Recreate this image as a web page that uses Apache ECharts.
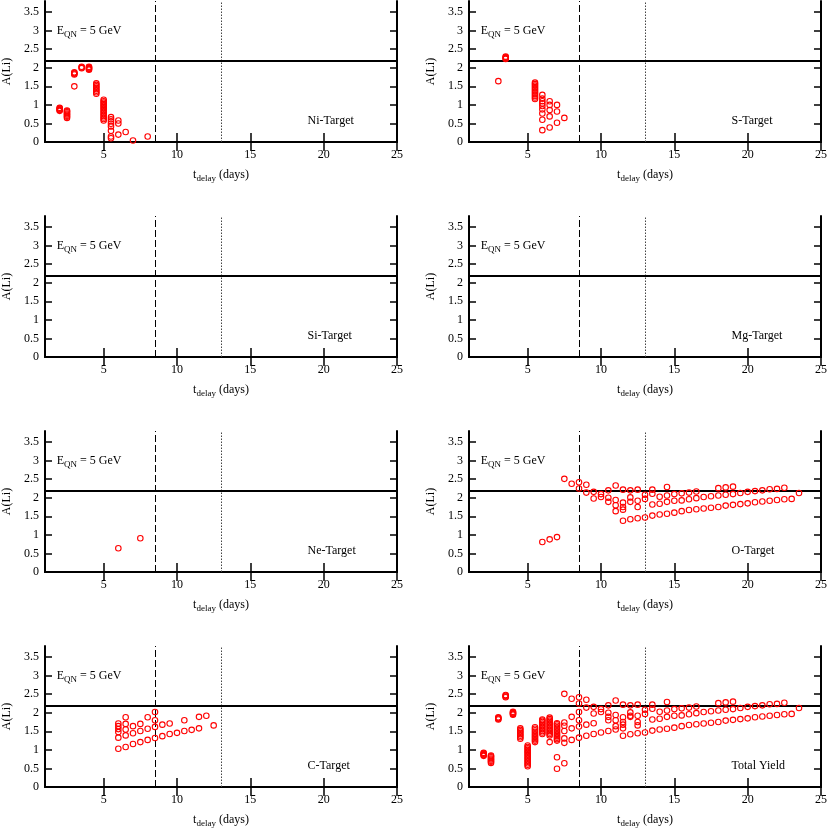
<!DOCTYPE html>
<html>
<head>
<meta charset="utf-8">
<script src="https://cdn.jsdelivr.net/npm/echarts@6/dist/echarts.min.js"></script>
<style>
  html, body { margin: 0; padding: 0; background: #fff; }
  #chart { width: 830px; height: 832px; }
</style>
</head>
<body>
<div id="chart"></div>
<script>
// panel titles
const targets = ['Ni-Target', 'S-Target', 'Si-Target', 'Mg-Target', 'Ne-Target', 'O-Target', 'C-Target', 'Total Yield']

// ticks
const xTicks = [5, 10, 15, 20, 25]
const yTicks = [0, 0.5, 1, 1.5, 2, 2.5, 3, 3.5]

// reference lines
const tDashed = 8.5
const tDotted = 13
const aLiPlateau = 2.2

// [t_delay (days), A(Li)]
const ni = [
  [2, 0.84], [2, 0.86], [2, 0.88], [2, 0.90], [2, 0.92],
  [2.5, 0.65], [2.5, 0.68], [2.5, 0.71], [2.5, 0.74], [2.5, 0.77], [2.5, 0.80], [2.5, 0.83], [2.5, 0.85],
  [3, 1.50], [3, 1.82], [3, 1.84], [3, 1.86], [3, 1.88],
  [3.5, 1.99], [3.5, 2.01], [3.5, 2.03],
  [4, 1.95], [4, 1.97], [4, 1.99], [4, 2.01], [4, 2.03],
  [4.5, 1.30], [4.5, 1.34], [4.5, 1.38], [4.5, 1.42], [4.5, 1.46], [4.5, 1.50], [4.5, 1.54], [4.5, 1.58],
  [5, 0.58], [5, 0.62], [5, 0.66], [5, 0.70], [5, 0.74], [5, 0.78], [5, 0.82], [5, 0.86],
  [5, 0.90], [5, 0.94], [5, 0.98], [5, 1.02], [5, 1.06], [5, 1.10], [5, 1.14],
  [5.5, 0.10], [5.5, 0.15], [5.5, 0.30], [5.5, 0.42], [5.5, 0.49], [5.5, 0.56], [5.5, 0.61], [5.5, 0.67],
  [6, 0.20], [6, 0.50], [6, 0.58],
  [6.5, 0.27], [7, 0.04], [8, 0.15]
]

const sulfur = [
  [3, 1.64],
  [3.5, 2.24], [3.5, 2.26], [3.5, 2.28], [3.5, 2.30],
  [5.5, 1.16], [5.5, 1.20], [5.5, 1.24], [5.5, 1.28], [5.5, 1.32], [5.5, 1.36],
  [5.5, 1.40], [5.5, 1.44], [5.5, 1.48], [5.5, 1.52], [5.5, 1.56], [5.5, 1.60],
  [6, 0.32], [6, 0.60], [6, 0.77], [6, 0.88], [6, 0.97], [6, 1.04], [6, 1.10], [6, 1.17], [6, 1.27],
  [6.5, 0.39], [6.5, 0.69], [6.5, 0.86], [6.5, 1.00], [6.5, 1.10],
  [7, 0.52], [7, 0.82], [7, 1.00],
  [7.5, 0.65]
]

const si = []
const mg = []

const ne = [[6, 0.64], [7.5, 0.91]]

const oxygen = [
  [6, 0.81], [6.5, 0.88], [7, 0.94], [7.5, 2.51], [8, 2.38],
  [8.5, 2.42], [8.5, 2.25], [9, 2.35], [9, 2.14], [9.5, 2.16], [9.5, 1.98],
  [10, 2.10], [10, 2.02], [10.5, 2.20], [10.5, 2.00], [10.5, 1.89],
  [11, 2.33], [11, 1.94], [11, 1.80], [11, 1.64],
  [11.5, 2.22], [11.5, 1.87], [11.5, 1.75], [11.5, 1.68], [11.5, 1.38],
  [12, 2.20], [12, 2.01], [12, 1.89], [12, 1.42],
  [12.5, 2.22], [12.5, 1.92], [12.5, 1.75], [12.5, 1.45],
  [13, 2.08], [13, 1.97], [13, 1.47],
  [13.5, 2.22], [13.5, 2.11], [13.5, 1.82], [13.5, 1.52],
  [14, 2.03], [14, 1.84], [14, 1.55],
  [14.5, 2.29], [14.5, 2.06], [14.5, 1.89], [14.5, 1.57],
  [15, 2.10], [15, 1.92], [15, 1.60],
  [15.5, 2.12], [15.5, 1.93], [15.5, 1.64],
  [16, 2.14], [16, 1.96], [16, 1.67],
  [16.5, 2.17], [16.5, 1.99], [16.5, 1.69],
  [17, 2.02], [17, 1.71], [17.5, 2.04], [17.5, 1.73],
  [18, 2.26], [18, 2.06], [18, 1.75],
  [18.5, 2.28], [18.5, 2.08], [18.5, 1.79],
  [19, 2.30], [19, 2.10], [19, 1.81],
  [19.5, 2.13], [19.5, 1.83], [20, 2.16], [20, 1.85],
  [20.5, 2.18], [20.5, 1.88], [21, 2.20], [21, 1.90],
  [21.5, 2.23], [21.5, 1.92], [22, 2.24], [22, 1.94],
  [22.5, 2.27], [22.5, 1.96], [23, 1.97], [23.5, 2.13]
]

const carbon = [
  [6, 1.03], [6, 1.33], [6, 1.48], [6, 1.56], [6, 1.64], [6, 1.71],
  [6.5, 1.08], [6.5, 1.39], [6.5, 1.55], [6.5, 1.70], [6.5, 1.88],
  [7, 1.16], [7, 1.45], [7, 1.64],
  [7.5, 1.21], [7.5, 1.51], [7.5, 1.70],
  [8, 1.27], [8, 1.57], [8, 1.88],
  [8.5, 1.32], [8.5, 1.62], [8.5, 1.80], [8.5, 2.02],
  [9, 1.37], [9, 1.68], [9.5, 1.43], [9.5, 1.71],
  [10, 1.46], [10.5, 1.51], [10.5, 1.80], [11, 1.54],
  [11.5, 1.58], [11.5, 1.89], [12, 1.92], [12.5, 1.66]
]

const total = [
  [2, 0.84], [2, 0.86], [2, 0.88], [2, 0.90], [2, 0.92],
  [2.5, 0.65], [2.5, 0.68], [2.5, 0.71], [2.5, 0.74], [2.5, 0.77], [2.5, 0.80], [2.5, 0.83], [2.5, 0.85],
  [3, 1.82], [3, 1.84], [3, 1.86], [3, 1.88],
  [3.5, 2.42], [3.5, 2.44], [3.5, 2.46], [3.5, 2.48],
  [4, 1.95], [4, 1.97], [4, 1.99], [4, 2.01], [4, 2.03],
  [4.5, 1.30], [4.5, 1.34], [4.5, 1.38], [4.5, 1.42], [4.5, 1.46], [4.5, 1.50], [4.5, 1.54], [4.5, 1.58],
  [5, 0.56], [5, 0.60], [5, 0.64], [5, 0.68], [5, 0.72], [5, 0.76], [5, 0.80], [5, 0.84],
  [5, 0.88], [5, 0.92], [5, 0.96], [5, 1.00], [5, 1.04], [5, 1.08], [5, 1.12],
  [5.5, 1.21], [5.5, 1.25], [5.5, 1.29], [5.5, 1.33], [5.5, 1.37], [5.5, 1.41],
  [5.5, 1.45], [5.5, 1.49], [5.5, 1.53], [5.5, 1.57], [5.5, 1.61],
  [6, 1.43], [6, 1.47], [6, 1.51], [6, 1.55], [6, 1.59], [6, 1.63],
  [6, 1.67], [6, 1.71], [6, 1.75], [6, 1.79], [6, 1.82],
  [6.5, 1.21], [6.5, 1.39], [6.5, 1.43], [6.5, 1.47], [6.5, 1.51], [6.5, 1.55], [6.5, 1.59],
  [6.5, 1.63], [6.5, 1.67], [6.5, 1.71], [6.5, 1.75], [6.5, 1.79], [6.5, 1.83], [6.5, 1.87],
  [7, 0.49], [7, 0.80], [7, 1.25], [7, 1.29], [7, 1.33], [7, 1.37], [7, 1.41], [7, 1.45],
  [7, 1.49], [7, 1.53], [7, 1.57], [7, 1.61], [7, 1.65], [7, 1.69], [7, 1.72],
  [7.5, 0.64], [7.5, 1.19], [7.5, 1.31], [7.5, 1.51], [7.5, 1.65], [7.5, 1.74], [7.5, 2.51],
  [8, 1.27], [8, 1.58], [8, 1.89], [8, 2.38],
  [8.5, 1.33], [8.5, 1.63], [8.5, 1.80], [8.5, 2.02], [8.5, 2.25], [8.5, 2.42],
  [9, 1.38], [9, 1.68], [9, 2.14], [9, 2.35],
  [9.5, 1.43], [9.5, 1.72], [9.5, 1.98], [9.5, 2.16],
  [10, 1.47], [10, 2.02], [10, 2.10],
  [10.5, 1.51], [10.5, 1.80], [10.5, 1.89], [10.5, 2.00], [10.5, 2.20],
  [11, 1.55], [11, 1.64], [11, 1.80], [11, 1.94], [11, 2.33],
  [11.5, 1.38], [11.5, 1.58], [11.5, 1.68], [11.5, 1.75], [11.5, 1.88], [11.5, 2.22],
  [12, 1.42], [12, 1.89], [12, 1.92], [12, 2.01], [12, 2.20],
  [12.5, 1.45], [12.5, 1.66], [12.5, 1.75], [12.5, 1.92], [12.5, 2.22],
  [13, 2.08], [13, 1.97], [13, 1.47],
  [13.5, 2.22], [13.5, 2.11], [13.5, 1.82], [13.5, 1.52],
  [14, 2.03], [14, 1.84], [14, 1.55],
  [14.5, 2.29], [14.5, 2.06], [14.5, 1.89], [14.5, 1.57],
  [15, 2.10], [15, 1.92], [15, 1.60],
  [15.5, 2.12], [15.5, 1.93], [15.5, 1.64],
  [16, 2.14], [16, 1.96], [16, 1.67],
  [16.5, 2.17], [16.5, 1.99], [16.5, 1.69],
  [17, 2.02], [17, 1.71], [17.5, 2.04], [17.5, 1.73],
  [18, 2.26], [18, 2.06], [18, 1.75],
  [18.5, 2.28], [18.5, 2.08], [18.5, 1.79],
  [19, 2.30], [19, 2.10], [19, 1.81],
  [19.5, 2.13], [19.5, 1.83], [20, 2.16], [20, 1.85],
  [20.5, 2.18], [20.5, 1.88], [21, 2.20], [21, 1.90],
  [21.5, 2.23], [21.5, 1.92], [22, 2.24], [22, 1.94],
  [22.5, 2.27], [22.5, 1.96], [23, 1.97], [23.5, 2.13]
]

const panelData = [ni, sulfur, si, mg, ne, oxygen, carbon, total]

const FONT = 'Liberation Serif'
const colLeft = [42, 469]
const rowTop = [1, 216, 431, 646]
const plotW = 355
const plotH = 141

const grids = []
const xAxes = []
const yAxes = []
const series = []

const axisLine = { show: true, lineStyle: { color: '#000', width: 2 } }

targets.forEach((name, i) => {
  grids.push({
    left: colLeft[i % 2],
    top: rowTop[Math.floor(i / 2)],
    width: plotW,
    height: plotH,
    containLabel: false
  })
})

// bottom + left axes with labels
targets.forEach((name, i) => {
  xAxes.push({
    gridIndex: i,
    type: 'value',
    min: 1,
    max: 25,
    position: 'bottom',
    axisLine: axisLine,
    axisTick: { show: true, inside: true, length: 9, customValues: xTicks, lineStyle: { color: '#000', width: 1.5 } },
    axisLabel: { customValues: xTicks, fontFamily: FONT, fontSize: 12, color: '#000', margin: 7 },
    splitLine: { show: false },
    name: '{a|t}{s|delay}{a| (days)}',
    nameLocation: 'middle',
    nameGap: 24,
    nameTextStyle: {
      fontFamily: FONT,
      color: '#000',
      rich: {
        a: { fontFamily: FONT, fontSize: 12, color: '#000' },
        s: { fontFamily: FONT, fontSize: 9, color: '#000', padding: [8, 0, 0, 0] }
      }
    }
  })
  yAxes.push({
    gridIndex: i,
    type: 'value',
    min: 0,
    max: 3.8,
    position: 'left',
    axisLine: axisLine,
    axisTick: { show: true, inside: true, length: 7, customValues: yTicks, lineStyle: { color: '#000', width: 1.5 } },
    axisLabel: { customValues: yTicks, fontFamily: FONT, fontSize: 12, color: '#000', margin: 6 },
    splitLine: { show: false },
    name: 'A(Li)',
    nameLocation: 'middle',
    nameRotate: 90,
    nameGap: 32,
    nameTextStyle: { fontFamily: FONT, fontSize: 12, color: '#000' }
  })
})

// mirrored top + right axes (ticks only)
targets.forEach((name, i) => {
  xAxes.push({
    gridIndex: i,
    type: 'value',
    min: 1,
    max: 25,
    position: 'top',
    axisLine: axisLine,
    axisTick: { show: true, inside: true, length: 9, customValues: xTicks, lineStyle: { color: '#000', width: 1.5 } },
    axisLabel: { show: false },
    splitLine: { show: false }
  })
  yAxes.push({
    gridIndex: i,
    type: 'value',
    min: 0,
    max: 3.8,
    position: 'right',
    axisLine: axisLine,
    axisTick: { show: true, inside: true, length: 7, customValues: yTicks, lineStyle: { color: '#000', width: 1.5 } },
    axisLabel: { show: false },
    splitLine: { show: false }
  })
})

panelData.forEach((data, i) => {
  series.push({
    type: 'scatter',
    xAxisIndex: i,
    yAxisIndex: i,
    data: data,
    symbol: 'circle',
    symbolSize: 5.5,
    itemStyle: { color: 'rgba(255,255,255,0)', borderColor: '#ff0000', borderWidth: 1.1, opacity: 1 },
    z: 3,
    silent: true,
    markLine: {
      silent: true,
      symbol: 'none',
      label: { show: false },
      animation: false,
      z: 2,
      data: [
        { xAxis: tDashed, lineStyle: { color: '#000', width: 1, type: [7, 3] } },
        { xAxis: tDotted, lineStyle: { color: '#444', width: 1, type: [1.5, 1.5] } },
        { yAxis: aLiPlateau, lineStyle: { color: '#000', width: 2, type: 'solid' } }
      ]
    }
  })
})

const chart = echarts.init(document.getElementById('chart'), null, { renderer: 'canvas' })
chart.setOption({
  backgroundColor: '#fff',
  animation: false,
  grid: grids,
  xAxis: xAxes,
  yAxis: yAxes,
  series: series
})

// panel annotations
const graphics = []
targets.forEach((name, i) => {
  const e = chart.convertToPixel({ gridIndex: i }, [1.8, 3.0])
  graphics.push({
    type: 'text',
    x: e[0],
    y: e[1],
    style: {
      text: '{a|E}{s|QN}{a| = 5 GeV}',
      verticalAlign: 'middle',
      rich: {
        a: { fontFamily: FONT, fontSize: 12, fill: '#000' },
        s: { fontFamily: FONT, fontSize: 9, fill: '#000', padding: [8, 0, 0, 0] }
      }
    }
  })
  const t = chart.convertToPixel({ gridIndex: i }, [18.9, 0.58])
  graphics.push({
    type: 'text',
    x: t[0],
    y: t[1],
    style: { text: name, fontFamily: FONT, fontSize: 12, fill: '#000', verticalAlign: 'middle' }
  })
})
chart.setOption({ graphic: graphics })
</script>
</body>
</html>
